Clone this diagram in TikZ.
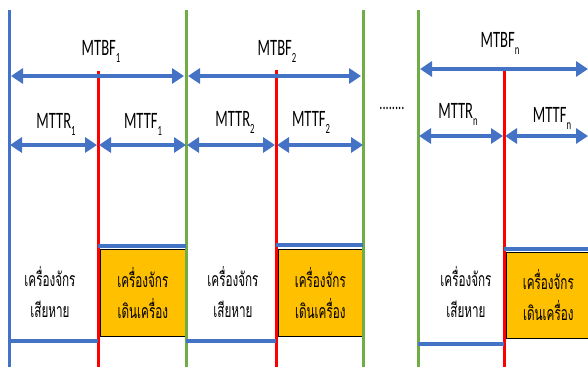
\documentclass[tikz,border=0pt]{standalone}
\usepackage{fontspec}
\setmainfont{Carlito}[FakeStretch=0.62]
\newfontfamily\thaifont[Script=Thai,FakeStretch=0.6]{Loma}
\usetikzlibrary{arrows.meta}
\definecolor{mblue}{HTML}{4472C4}
\definecolor{mgreen}{HTML}{70AD47}
\definecolor{mred}{HTML}{FF0000}
\definecolor{myellow}{HTML}{FFC000}
\newcommand\lowsub[1]{\raisebox{-0.3em}{\fontsize{14}{14}\selectfont #1}}
\tikzset{
  dimarrow/.style={draw=mblue, line width=3.5pt,
    {Triangle[width=15pt,length=12pt]}-{Triangle[width=15pt,length=12pt]}},
  bluev/.style={draw=mblue, line width=3pt},
  greenv/.style={draw=mgreen, line width=3pt},
  redv/.style={draw=mred, line width=3pt},
  levelline/.style={draw=mblue, line width=4pt},
  runbox/.style={draw=black, line width=0.6pt, fill=myellow},
  lbl/.style={font=\fontsize{23.5}{23.5}\selectfont, inner sep=0pt},
  thailbl/.style={font=\thaifont\fontsize{19.5}{31}\selectfont, align=center, inner sep=0pt},
}
\begin{document}
\begin{tikzpicture}[x=1pt,y=-1pt]
\useasboundingbox (0,0) rectangle (588,367);
% vertical coordinates
\coordinate (b0t) at (9,10);   \coordinate (b0b) at (9,367);
\coordinate (r1t) at (98,71);  \coordinate (r1b) at (98,367);
\coordinate (g1t) at (186,10); \coordinate (g1b) at (186,367);
\coordinate (r2t) at (276,70); \coordinate (r2b) at (276,367);
\coordinate (g2t) at (363,10); \coordinate (g2b) at (363,367);
\coordinate (g3t) at (418,10); \coordinate (g3b) at (418,367);
\coordinate (r3t) at (504,68); \coordinate (r3b) at (504,367);

% yellow boxes
\node[runbox, minimum width=85pt, minimum height=87pt, anchor=north west] (y1) at (100,249) {};
\node[runbox, minimum width=84pt, minimum height=87pt, anchor=north west] (y2) at (278,249) {};
\node[runbox, minimum width=84pt, minimum height=86pt, anchor=north west] (y3) at (506,252) {};

% vertical lines
\draw[bluev] (b0t) -- (b0b);
\draw[redv] (r1t) -- (r1b);
\draw[greenv] (g1t) -- (g1b);
\draw[redv] (r2t) -- (r2b);
\draw[greenv] (g2t) -- (g2b);
\draw[greenv] (g3t) -- (g3b);
\draw[redv] (r3t) -- (r3b);

% arrow end coordinates
\coordinate (m1a) at (11,76);  \coordinate (m1b) at (184,76);
\coordinate (m2a) at (188,76); \coordinate (m2b) at (361,76);
\coordinate (m3a) at (420,69); \coordinate (m3b) at (588,69);
\coordinate (t1a) at (10,145); \coordinate (t1b) at (97,145);
\coordinate (f1a) at (99,145); \coordinate (f1b) at (186,145);
\coordinate (t2a) at (187,145);\coordinate (t2b) at (275,145);
\coordinate (f2a) at (277,145);\coordinate (f2b) at (363,145);
\coordinate (t3a) at (419,136);\coordinate (t3b) at (503,136);
\coordinate (f3a) at (505,136);\coordinate (f3b) at (588,136);

\draw[dimarrow] (m1a) -- (m1b);
\draw[dimarrow] (m2a) -- (m2b);
\draw[dimarrow] (m3a) -- (m3b);
\draw[dimarrow] (t1a) -- (t1b);
\draw[dimarrow] (f1a) -- (f1b);
\draw[dimarrow] (t2a) -- (t2b);
\draw[dimarrow] (f2a) -- (f2b);
\draw[dimarrow] (t3a) -- (t3b);
\draw[dimarrow] (f3a) -- (f3b);

% level lines
\coordinate (l1a) at (9,341);  \coordinate (l1b) at (98,341);
\coordinate (h1a) at (98,246); \coordinate (h1b) at (186,246);
\coordinate (l2a) at (186,341);\coordinate (l2b) at (276,341);
\coordinate (h2a) at (276,245);\coordinate (h2b) at (363,245);
\coordinate (l3a) at (418,344);\coordinate (l3b) at (504,344);
\coordinate (h3a) at (504,249);\coordinate (h3b) at (588,249);
\draw[levelline] (l1a) -- (l1b);
\draw[levelline] (h1a) -- (h1b);
\draw[levelline] (l2a) -- (l2b);
\draw[levelline] (h2a) -- (h2b);
\draw[levelline] (l3a) -- (l3b);
\draw[levelline] (h3a) -- (h3b);

% labels
\node[lbl] (lm1) at (101,51) {MTBF\lowsub{1}};
\node[lbl] (lm2) at (277,51) {MTBF\lowsub{2}};
\node[lbl] (lm3) at (500,43) {MTBF\lowsub{n}};
\node[lbl] (lt1) at (56,124) {MTTR\lowsub{1}};
\node[lbl] (lf1) at (143,124) {MTTF\lowsub{1}};
\node[lbl] (lt2) at (235,122) {MTTR\lowsub{2}};
\node[lbl] (lf2) at (311,122) {MTTF\lowsub{2}};
\node[lbl] (lt3) at (458,114) {MTTR\lowsub{n}};
\node[lbl] (lf3) at (552,118) {MTTF\lowsub{n}};
\node[font=\fontsize{20}{20}\selectfont, inner sep=0pt] (dots) at (392,108) {........};

% Thai labels
\node[thailbl] (d1) at (50,292) {เครื่องจักร\\เสียหาย};
\node[thailbl] (d2) at (233,292) {เครื่องจักร\\เสียหาย};
\node[thailbl] (d3) at (466,292) {เครื่องจักร\\เสียหาย};
\node[thailbl] (u1) at (y1.center) {เครื่องจักร\\เดินเครื่อง};
\node[thailbl] (u2) at (y2.center) {เครื่องจักร\\เดินเครื่อง};
\node[thailbl] (u3) at (y3.center) {เครื่องจักร\\เดินเครื่อง};
\end{tikzpicture}
\end{document}
